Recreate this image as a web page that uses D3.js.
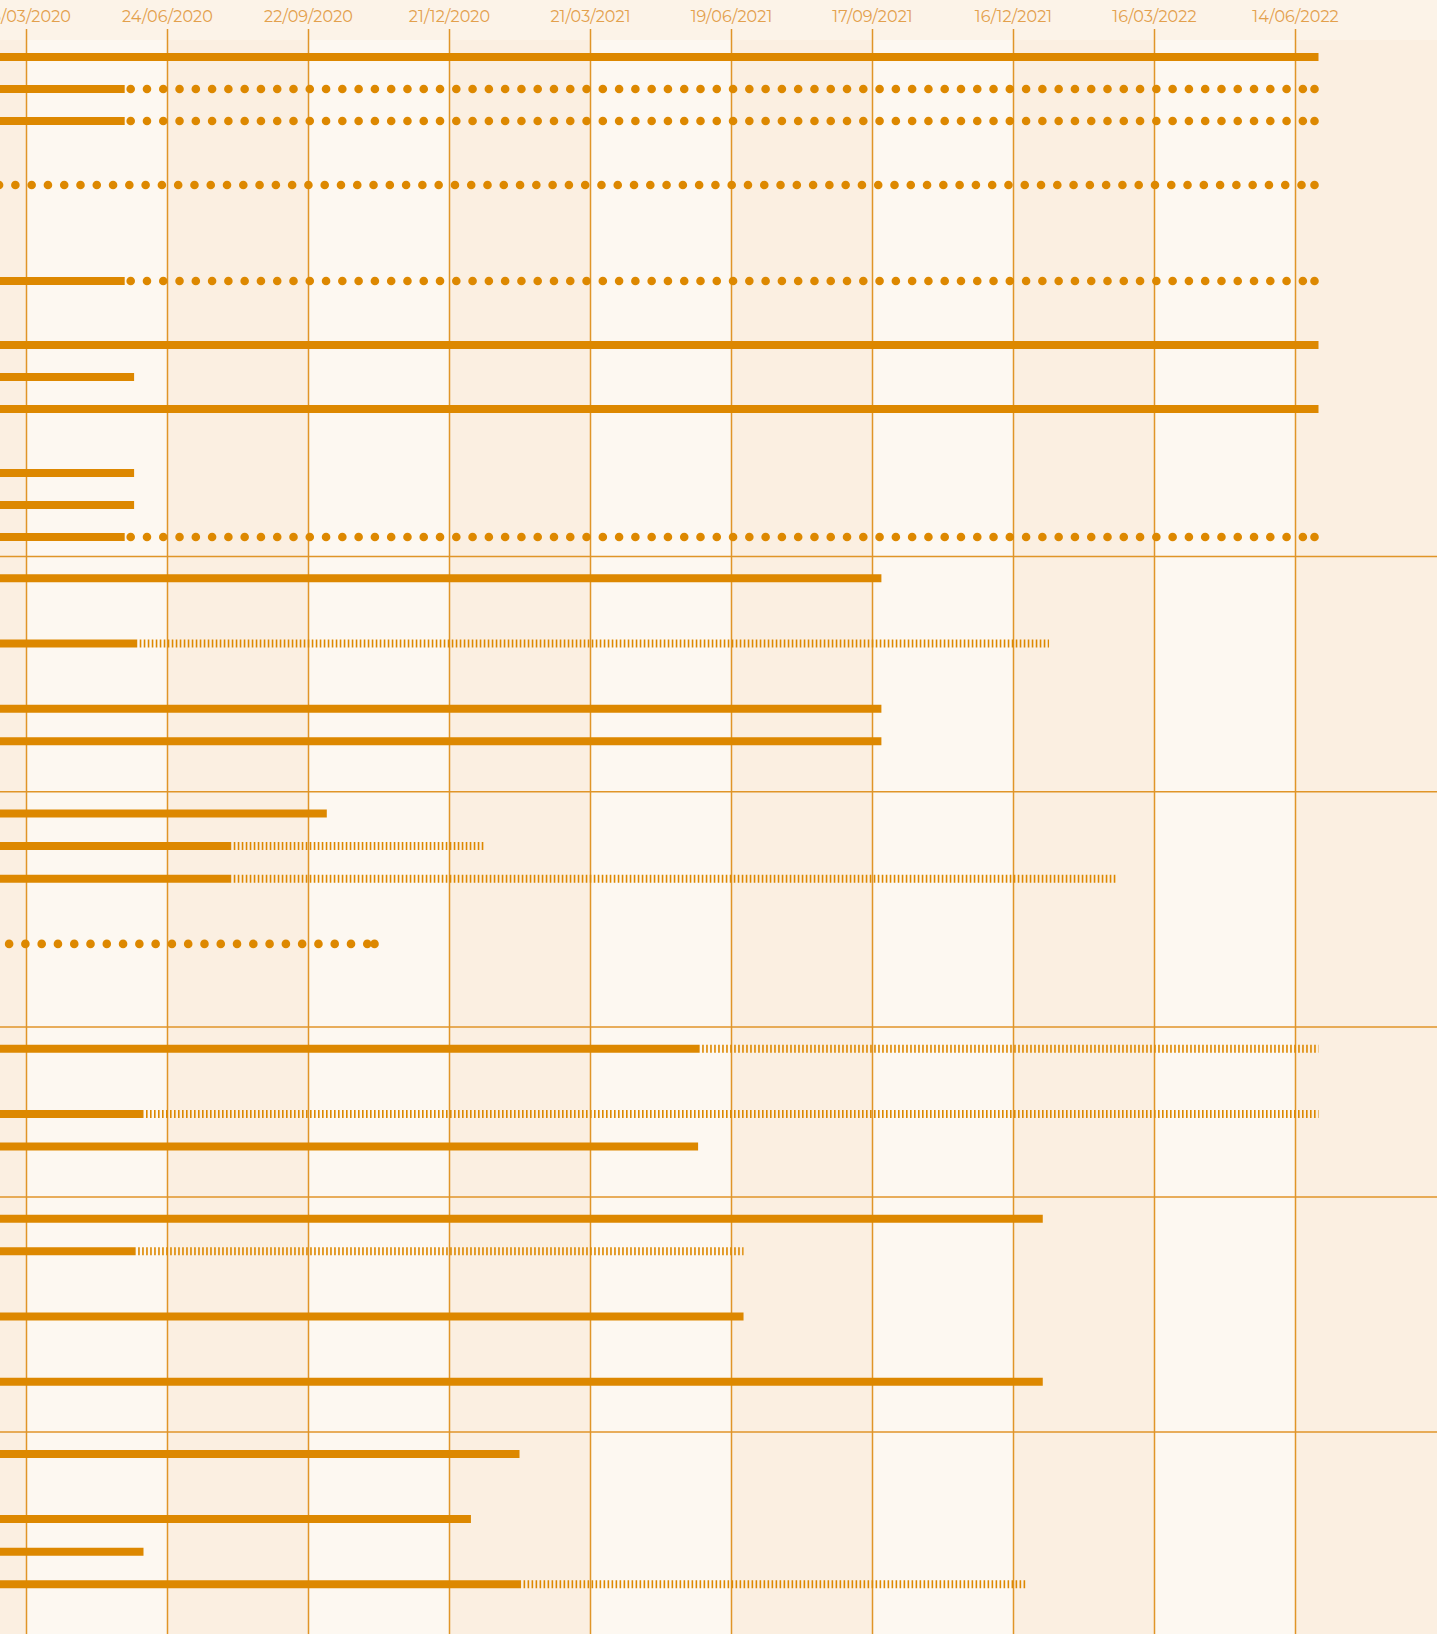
<!DOCTYPE html>
<html>
<head>
<meta charset="utf-8">
<script src="https://cdn.jsdelivr.net/npm/d3@7"></script>
<style>
	body { margin: 0; overflow: hidden; background: #FBEFE1; }
	#container svg { display: block; }
	.tick-label { font-family: "Montserrat", "Noto Sans", sans-serif; font-size: 16px; fill: #E3A04C; letter-spacing: 0.1px; }
</style>
</head>
<body>
<div id="container"></div>
<script>
(function () {
	// tick labels along the top (every 90 days)
	var tickDates = ["26/03/2020", "24/06/2020", "22/09/2020", "21/12/2020", "21/03/2021",
		"19/06/2021", "17/09/2021", "16/12/2021", "16/03/2022", "14/06/2022"];

	// rows, per group (row labels are outside the visible crop)
	var groupIds = ["g1", "g2", "g3", "g4", "g5", "g6"];
	var rowGroup = [
		0, 0, 0, 0, 0, 0, 0, 0, 0, 0, 0, 0, 0, 0, 0, 0,
		1, 1, 1, 1, 1, 1, 1,
		2, 2, 2, 2, 2, 2, 2,
		3, 3, 3, 3, 3,
		4, 4, 4, 4, 4, 4, 4,
		5, 5, 5, 5, 5, 5
	];
	// start date of each row
	var rowStart = [
		"01/03/2020", "01/03/2020", "01/03/2020", null, "05/03/2020", null, null, "01/03/2020",
		null, "01/03/2020", "01/03/2020", "01/03/2020", null, "01/03/2020", "01/03/2020", "01/03/2020",
		"01/03/2020", null, "01/03/2020", null, "01/03/2020", "01/03/2020", null,
		"01/03/2020", "01/03/2020", "01/03/2020", null, "01/03/2020", null, null,
		"01/03/2020", null, "01/03/2020", "01/03/2020", null,
		"01/03/2020", "01/03/2020", null, "01/03/2020", null, "01/03/2020", null,
		"01/03/2020", null, "01/03/2020", "01/03/2020", "01/03/2020", null
	];
	// end of the done part (solid)
	var rowDone = [
		"29/06/2022", "28/05/2020", "28/05/2020", null, null, null, null, "28/05/2020",
		null, "29/06/2022", "03/06/2020", "29/06/2022", null, "03/06/2020", "03/06/2020", "28/05/2020",
		"23/09/2021", null, "05/06/2020", null, "23/09/2021", "23/09/2021", null,
		"04/10/2020", "04/08/2020", "04/08/2020", null, null, null, null,
		"30/05/2021", null, "09/06/2020", "29/05/2021", null,
		"04/01/2022", "04/06/2020", null, "27/06/2021", null, "04/01/2022", null,
		"04/02/2021", null, "04/01/2021", "09/06/2020", "05/02/2021", null
	];
	// end of the planned part
	var rowPlan = [
		null, "29/06/2022", "29/06/2022", null, "29/06/2022", null, null, "29/06/2022",
		null, null, null, null, null, null, null, "29/06/2022",
		null, null, "08/01/2022", null, null, null, null,
		null, "12/01/2021", "20/02/2022", null, "06/11/2020", null, null,
		"29/06/2022", null, "29/06/2022", null, null,
		null, "27/06/2021", null, null, null, null, null,
		null, null, null, null, "25/12/2021", null
	];
	// how the planned part is drawn
	var rowPlanType = [
		null, "dotted", "dotted", null, "dotted", null, null, "dotted",
		null, null, null, null, null, null, null, "dotted",
		null, null, "hatched", null, null, null, null,
		null, "hatched", "hatched", null, "dotted", null, null,
		"hatched", null, "hatched", null, null,
		null, "hatched", null, null, null, null, null,
		null, null, null, null, "hatched", null
	];

	var W = 1437, H = 1634;
	var headerH = 40, gridTop = 29;
	var barColor = "#DD8800", gridColor = "#E09528";
	var darkBand = "#FBEFE1", lightBand = "#FDF8F1", headerBg = "#FCF3E8";

	var parseDate = d3.utcParse("%d/%m/%Y");
	var ticks = tickDates.map(parseDate);

	// scales
	var xScale = d3.scaleUtc()
		.domain([ticks[0], ticks[ticks.length - 1]])
		.range([26, 1295]);

	// group layout: each row a slot
	function rowStep(g) { return g === 0 ? 32 : 32.6; }
	function padTop(g) { return g === 0 ? 3.5 : 5.5; }
	function padBottom(g) { return g === 0 ? 3.5 : 1.5; }

	var groups = [], top = 37.5;
	groupIds.forEach(function (id, g) {
		var n = rowGroup.filter(function (d) { return d === g; }).length;
		var h = padTop(g) + padBottom(g) + n * rowStep(g);
		groups.push({ id: id, top: top, bottom: top + h });
		top += h;
	});

	var rows = rowGroup.map(function (g, i) {
		var slot = rowGroup.slice(0, i).filter(function (d) { return d === g; }).length;
		var y0 = groups[g].top + padTop(g) + rowStep(g) / 2;
		var yScale = d3.scaleLinear()
			.domain([0, 1])
			.range([y0, y0 + rowStep(g)]);
		return {
			group: g,
			y: yScale(slot),
			start: rowStart[i] ? parseDate(rowStart[i]) : null,
			done: rowDone[i] ? parseDate(rowDone[i]) : null,
			plan: rowPlan[i] ? parseDate(rowPlan[i]) : null,
			type: rowPlanType[i]
		};
	});

	var svg = d3.select("#container")
		.append("svg")
			.attr("width", W)
			.attr("height", H);

	// background stripes, one per 90 day step
	svg.append("rect")
		.attr("width", W).attr("height", H)
		.attr("fill", darkBand);

	svg.selectAll(".band")
		.data(d3.pairs(ticks).filter(function (d, i) { return i % 2 === 0; }))
		.enter()
		.append("rect")
			.attr("class", "band")
			.attr("x", function (d) { return xScale(d[0]); })
			.attr("y", headerH)
			.attr("width", function (d) { return xScale(d[1]) - xScale(d[0]); })
			.attr("height", H - headerH)
			.attr("fill", lightBand);

	svg.append("rect")
		.attr("width", W).attr("height", headerH)
		.attr("fill", headerBg);

	// axis on top
	var xAxis = d3.axisTop(xScale)
		.tickValues(ticks)
		.tickFormat(d3.utcFormat("%d/%m/%Y"))
		.tickSize(0)
		.tickPadding(0);

	var axis = svg.append("g")
		.attr("transform", "translate(0,22)")
		.call(xAxis);
	axis.select(".domain").remove();
	axis.selectAll("text")
		.attr("class", "tick-label")
		.attr("y", 0)
		.attr("dy", 0)
		.attr("fill", null);

	// grid lines
	svg.selectAll(".grid")
		.data(ticks)
		.enter()
		.append("line")
			.attr("class", "grid")
			.attr("x1", function (d) { return Math.round(xScale(d)) + 0.5; })
			.attr("x2", function (d) { return Math.round(xScale(d)) + 0.5; })
			.attr("y1", gridTop)
			.attr("y2", H)
			.attr("stroke", gridColor)
			.attr("stroke-width", 1.5);

	// separators between groups
	svg.selectAll(".sep")
		.data(groups.slice(0, groups.length - 1))
		.enter()
		.append("line")
			.attr("class", "sep")
			.attr("x1", 0).attr("x2", W)
			.attr("y1", function (d) { return d.bottom; })
			.attr("y2", function (d) { return d.bottom; })
			.attr("stroke", gridColor)
			.attr("stroke-width", 1.5);

	var bars = svg.append("g").attr("class", "bars");

	// solid part
	bars.selectAll(".done")
		.data(rows.filter(function (d) { return d.start && d.done; }))
		.enter()
		.append("line")
			.attr("class", "done")
			.attr("x1", function (d) { return xScale(d.start); })
			.attr("x2", function (d) { return xScale(d.done); })
			.attr("y1", function (d) { return d.y; })
			.attr("y2", function (d) { return d.y; })
			.attr("stroke", barColor)
			.attr("stroke-width", 8);

	// hatched planned part
	bars.selectAll(".hatched")
		.data(rows.filter(function (d) { return d.type === "hatched"; }))
		.enter()
		.append("line")
			.attr("class", "hatched")
			.attr("x1", function (d) { return xScale(d.done || d.start) + 2.5; })
			.attr("x2", function (d) { return xScale(d.plan); })
			.attr("y1", function (d) { return d.y; })
			.attr("y2", function (d) { return d.y; })
			.attr("stroke", barColor)
			.attr("stroke-width", 8)
			.attr("stroke-dasharray", "1.6 2.4");

	// dotted planned part
	var dotStep = 16.28;
	bars.selectAll(".dotted")
		.data(rows.filter(function (d) { return d.type === "dotted"; }))
		.enter()
		.append("g")
			.attr("class", "dotted")
		.each(function (d) {
			var x0 = xScale(d.done || d.start) + 6,
				x1 = xScale(d.plan) - 4;
			var xs = d3.range(x0, x1, dotStep).concat([x1]);
			d3.select(this).selectAll("circle")
				.data(xs)
				.enter()
				.append("circle")
					.attr("cx", function (c) { return c; })
					.attr("cy", d.y)
					.attr("r", 4.3)
					.attr("fill", barColor);
		});
})()
</script>
</body>
</html>
